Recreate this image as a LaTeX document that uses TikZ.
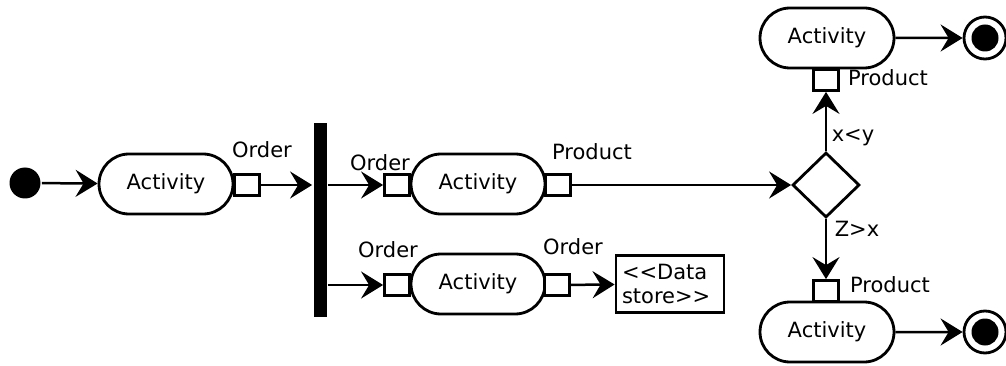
\documentclass[tikz,border=0pt]{standalone}
\usepackage{fontspec}
\setmainfont{DejaVu Sans}
\usetikzlibrary{shapes.misc,shapes.geometric,arrows.meta}
\begin{document}
\begin{tikzpicture}[x=1pt,y=-1pt,
  font=\fontsize{21}{24}\selectfont,
  line width=2.8pt,
  action/.style={rounded rectangle, draw, minimum width=134pt, minimum height=60pt, inner sep=0pt},
  pinbox/.style={rectangle, draw, fill=white, minimum width=25pt, minimum height=21pt, inner sep=0pt},
  flow/.style={line width=2.5pt, -{Stealth[length=22pt,width=27pt,inset=8pt]}},
  lbl/.style={inner sep=1pt},
  final/.style={circle, draw, minimum size=42pt, inner sep=0pt}
]
\useasboundingbox (0,0) rectangle (1006,366);

% initial node, first action and fork bar
\node[circle, fill, minimum size=31pt, inner sep=0pt] (start) at (25,183) {};
\node[action] (a1) at (166,184) {Activity};
\node[pinbox] (p1) at (247,185) {};
\node[lbl] (l1) at (262,150) {Order};
\node[fill, minimum width=13pt, minimum height=193pt, inner sep=0pt] (fork) at (320,220) {};

% upper branch
\node[action] (a2) at (478,184) {Activity};
\node[pinbox] (p2in) at (397,185) {};
\node[pinbox] (p2out) at (558,185) {};
\node[lbl] (l2) at (380,163) {Order};
\node[lbl] (l3) at (592,152) {Product};

% lower branch with data store
\node[action] (a3) at (478,284) {Activity};
\node[pinbox] (p3in) at (397,285) {};
\node[pinbox] (p3out) at (557,285) {};
\node[lbl] (l4) at (388,250) {Order};
\node[lbl] (l5) at (573,247) {Order};
\node[draw, align=left, text width=96pt, inner xsep=6pt, minimum height=57pt] (ds) at (670,284)
  {<\kern0pt<Data\\store>\kern0pt>};

% decision and its two outcomes
\node[diamond, draw, minimum width=67pt, minimum height=65pt, inner sep=0pt] (dec) at (826,185) {};
\node[action] (a4) at (827,38) {Activity};
\node[pinbox] (p4) at (826,80) {};
\node[lbl] (l6) at (888,78) {Product};
\node[lbl] (c1) at (853,138) {x<y};
\node[action] (a5) at (827,332) {Activity};
\node[pinbox] (p5) at (826,291) {};
\node[lbl] (l7) at (890,285) {Product};
\node[lbl] (c2) at (857,229) {Z>x};

% final nodes
\node[final] (f1) at (985,38) {};
\fill (f1.center) circle (13.5pt);
\node[final] (f2) at (985,332) {};
\fill (f2.center) circle (13.5pt);

% flows
\draw[flow] (start) -- (a1);
\draw[flow] (p1) -- (fork.west |- p1);
\draw[flow] (fork.east |- p2in) -- (p2in);
\draw[flow] (fork.east |- p3in) -- (p3in);
\draw[flow] (p2out) -- (dec);
\draw[flow] (p3out) -- (ds);
\draw[flow] (dec) -- (p4);
\draw[flow] (dec) -- (p5);
\draw[flow] (a4) -- (f1);
\draw[flow] (a5) -- (f2);
\end{tikzpicture}
\end{document}
